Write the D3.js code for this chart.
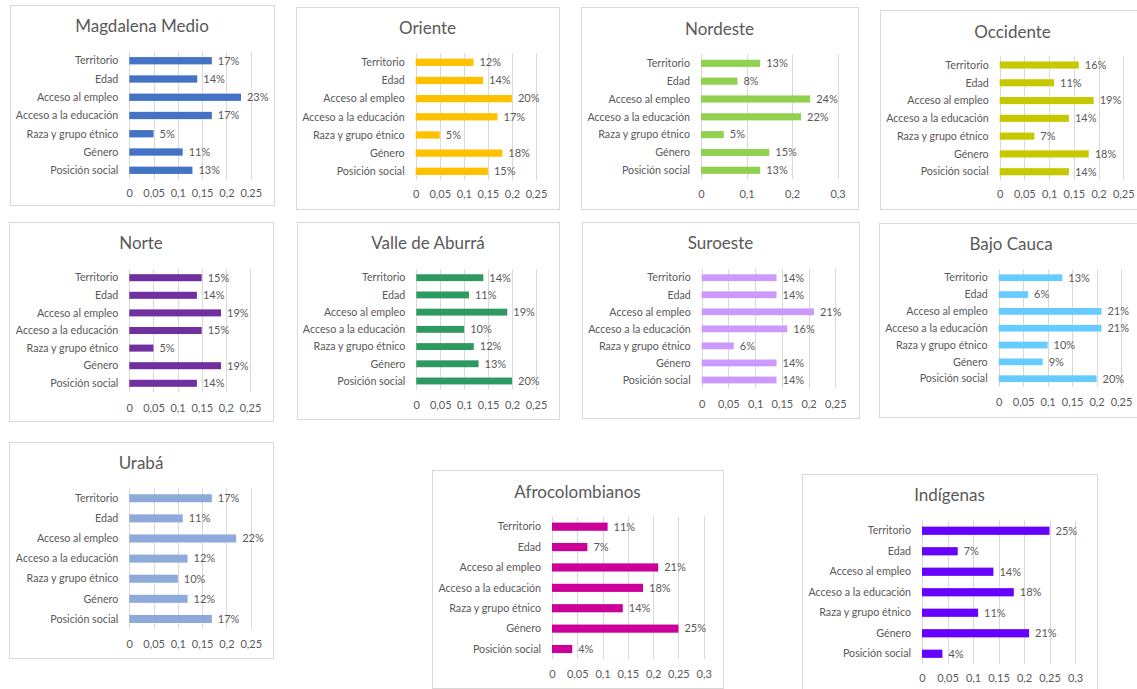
<!DOCTYPE html>
<html>
<head>
<meta charset="utf-8">
<script src="https://cdn.jsdelivr.net/npm/d3@7/dist/d3.min.js"></script>
<style>
  body { margin: 0; background: #fff; }
  text { font-family: Lato, "Open Sans", sans-serif; fill: #595959; }
</style>
</head>
<body>
<div id="chart"></div>
<script>
// categories (top to bottom)
const categories = ["Territorio", "Edad", "Acceso al empleo", "Acceso a la educación",
                    "Raza y grupo étnico", "Género", "Posición social"];

// values per region, in the same order as categories
const magdalenaMedio  = [0.17, 0.14, 0.23, 0.17, 0.05, 0.11, 0.13];
const oriente         = [0.12, 0.14, 0.20, 0.17, 0.05, 0.18, 0.15];
const nordeste        = [0.13, 0.08, 0.24, 0.22, 0.05, 0.15, 0.13];
const occidente       = [0.16, 0.11, 0.19, 0.14, 0.07, 0.18, 0.14];
const norte           = [0.15, 0.14, 0.19, 0.15, 0.05, 0.19, 0.14];
const valleDeAburra   = [0.14, 0.11, 0.19, 0.10, 0.12, 0.13, 0.20];
const suroeste        = [0.14, 0.14, 0.21, 0.16, 0.06, 0.14, 0.14];
const bajoCauca       = [0.13, 0.06, 0.21, 0.21, 0.10, 0.09, 0.20];
const uraba           = [0.17, 0.11, 0.22, 0.12, 0.10, 0.12, 0.17];
const afrocolombianos = [0.11, 0.07, 0.21, 0.18, 0.14, 0.25, 0.04];
const indigenas       = [0.25, 0.07, 0.14, 0.18, 0.11, 0.21, 0.04];

const titles = ["Magdalena Medio", "Oriente", "Nordeste", "Occidente", "Norte",
                "Valle de Aburrá", "Suroeste", "Bajo Cauca", "Urabá",
                "Afrocolombianos", "Indígenas"];
const series = [magdalenaMedio, oriente, nordeste, occidente, norte, valleDeAburra,
                suroeste, bajoCauca, uraba, afrocolombianos, indigenas];

// axis maximum and tick step of each panel
const axisMax  = [0.25, 0.25, 0.3, 0.25, 0.25, 0.25, 0.25, 0.25, 0.25, 0.3, 0.3];
const axisStep = [0.05, 0.05, 0.1, 0.05, 0.05, 0.05, 0.05, 0.05, 0.05, 0.05, 0.05];

// styles
const colors = ["#4472c4", "#ffc000", "#92d050", "#c8c800", "#7030a0", "#2e9960",
                "#cc99ff", "#66ccff", "#8eaadb", "#cc0099", "#6600ff"];

// layout: box [x, y, w, h], plot [left, top, right, bottom], title y, tick label y
const layout = [
  { box: [10, 5, 264, 200],  plot: [129.3, 51.6, 250.7, 179.4],  ty: 26,    ky: 193 },
  { box: [296, 7, 263, 202], plot: [415.7, 53.2, 536, 180.4],    ty: 28.3,  ky: 194.3 },
  { box: [581, 7, 277, 202], plot: [701, 54.4, 837.5, 179.2],    ty: 29,    ky: 194 },
  { box: [880, 10, 265, 199], plot: [999.7, 56.1, 1123.3, 180.6], ty: 31.7, ky: 194.3 },
  { box: [9, 222, 264, 199], plot: [129.3, 268.9, 250, 392.1],   ty: 243.3, ky: 407.7 },
  { box: [297, 222, 262, 197], plot: [416.3, 269.1, 536, 389.6], ty: 243.3, ky: 405 },
  { box: [582, 222, 277, 196], plot: [701.7, 269.2, 835.3, 388.5], ty: 243.3, ky: 404.3 },
  { box: [879, 223, 264, 194], plot: [998.7, 269.3, 1121, 387.1], ty: 244.3, ky: 401.7 },
  { box: [9, 442, 264, 216], plot: [129.3, 488.2, 250.7, 629],   ty: 463.3, ky: 644.3 },
  { box: [432, 470, 291, 218], plot: [552, 516.5, 703.7, 659.2], ty: 492.3, ky: 674.3 },
  { box: [802, 474, 295, 230], plot: [922, 520.5, 1075, 664],    ty: 495,   ky: 678.3 }
];

const width = 1137, height = 689;
const svg = d3.select("#chart").append("svg")
  .attr("width", width)
  .attr("height", height);

const tickFmt = d => String(+d.toFixed(2)).replace(".", ",");
const pct = d => Math.round(d * 100) + "%";

titles.forEach((title, i) => {
  const L = layout[i];
  const [left, top, right, bottom] = L.plot;
  const data = categories.map((c, j) => ({ key: c, value: series[i][j] }));
  const g = svg.append("g");

  g.append("rect")
    .attr("x", L.box[0] + 0.5).attr("y", L.box[1] + 0.5)
    .attr("width", L.box[2]).attr("height", L.box[3])
    .attr("fill", "#fff").attr("stroke", "#d9d9d9");

  g.append("text")
    .attr("x", L.box[0] + L.box[2] / 2)
    .attr("y", L.ty)
    .attr("dy", "0.35em")
    .attr("text-anchor", "middle")
    .style("font-size", "17px")
    .text(title);

  const x = d3.scaleLinear().domain([0, axisMax[i]]).range([left, right]);
  const y = d3.scaleBand().domain(categories).range([top, bottom]).paddingInner(0.6).paddingOuter(0.3);
  const ticks = d3.range(0, axisMax[i] + 1e-9, axisStep[i]);

  // gridlines
  g.selectAll(".grid")
    .data(ticks)
    .enter().append("line")
    .attr("x1", d => Math.round(x(d)) + 0.5)
    .attr("x2", d => Math.round(x(d)) + 0.5)
    .attr("y1", top).attr("y2", bottom)
    .attr("stroke", "#d9d9d9");

  // x tick labels
  const xaxisG = g.append("g")
    .attr("transform", "translate(0," + L.ky + ")")
    .call(d3.axisBottom(x).tickValues(ticks).tickFormat(tickFmt).tickSize(0).tickPadding(0));
  xaxisG.select(".domain").remove();
  xaxisG.selectAll("text")
    .attr("y", 0).attr("dy", "0.35em")
    .style("font-size", "11px")
    .style("font-family", null)
    .attr("fill", "#595959");

  // category labels
  g.selectAll(".cat")
    .data(data)
    .enter().append("text")
    .attr("x", left - 11)
    .attr("y", d => y(d.key) + y.bandwidth() / 2)
    .attr("dy", "0.35em")
    .attr("text-anchor", "end")
    .style("font-size", "10.7px")
    .text(d => d.key);

  // bars
  g.selectAll(".bar")
    .data(data)
    .enter().append("rect")
    .attr("x", x(0))
    .attr("y", d => y(d.key))
    .attr("width", d => x(d.value) - x(0))
    .attr("height", y.bandwidth())
    .attr("fill", colors[i]);

  // value labels
  g.selectAll(".val")
    .data(data)
    .enter().append("text")
    .attr("x", d => x(d.value) + 6)
    .attr("y", d => y(d.key) + y.bandwidth() / 2)
    .attr("dy", "0.35em")
    .style("font-size", "11px")
    .text(d => pct(d.value));
});
</script>
</body>
</html>
